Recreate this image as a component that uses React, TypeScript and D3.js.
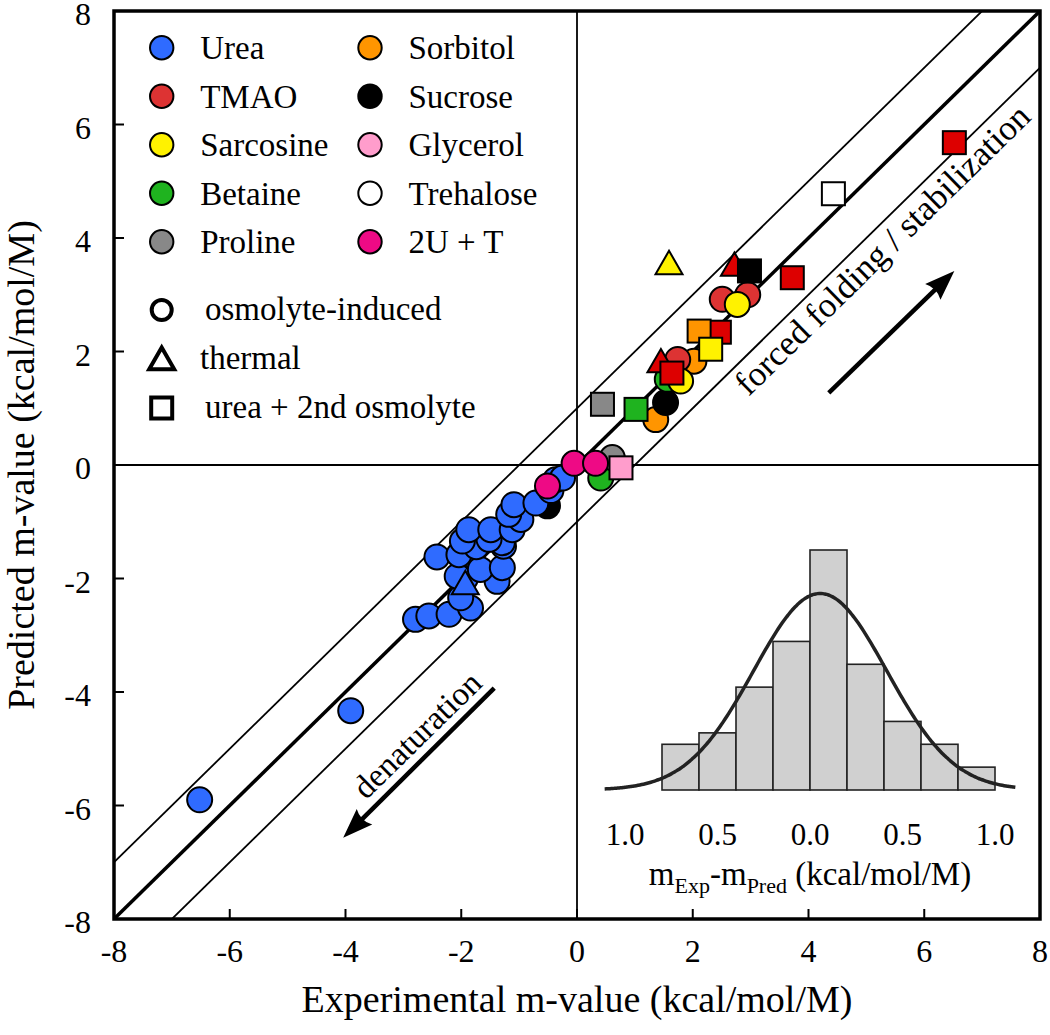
import React from "react";
import * as d3 from "d3";

type P = [number, number];

// ---------- data ----------
const ureaCircles: P[] = [
  [-6.52, -5.9], [-3.91, -4.33],
  [-2.79, -2.72], [-2.56, -2.66], [-2.21, -2.63], [-1.84, -2.52], [-2.01, -2.34],
  [-1.93, -2.0], [-2.07, -1.96], [-1.38, -2.05], [-1.67, -1.84], [-1.29, -1.81],
  [-2.42, -1.62], [-2.04, -1.58], [-1.74, -1.44], [-1.27, -1.43], [-1.29, -1.37],
  [-1.98, -1.34], [-1.52, -1.31], [-1.87, -1.14], [-1.49, -1.14], [-1.12, -1.14],
  [-0.97, -0.96], [-1.18, -0.87], [-1.09, -0.7], [-0.71, -0.67], [-0.45, -0.45],
  [-0.37, -0.26], [-0.25, -0.23],
];
const sucroseCircles: P[] = [[-0.51, -0.72], [1.53, 1.1]];
const sorbitolCircles: P[] = [[2.02, 1.83], [1.36, 0.8]];
const tmaoCircles: P[] = [[2.51, 2.92], [2.95, 3.0], [1.74, 1.86]];
const betaineCircles: P[] = [[1.56, 1.51], [0.41, -0.23]];
const sarcosineCircles: P[] = [[2.77, 2.83], [1.79, 1.48]];
const prolineCircles: P[] = [[0.61, 0.13]];
const mixCircles: P[] = [[-0.51, -0.37], [-0.05, 0.03], [0.32, 0.03]];

const sarcosineTriangles: P[] = [[1.59, 3.5]];
const tmaoTriangles: P[] = [[2.72, 3.47], [1.45, 1.77]];
const ureaTriangles: P[] = [[-1.93, -2.14]];

const sucroseSquares: P[] = [[2.98, 3.42]];
const tmaoSquares: P[] = [[3.72, 3.3], [6.52, 5.68], [2.46, 2.34], [1.64, 1.62]];
const trehaloseSquares: P[] = [[4.43, 4.78]];
const sorbitolSquares: P[] = [[2.11, 2.36]];
const sarcosineSquares: P[] = [[2.31, 2.04]];
const betaineSquares: P[] = [[1.02, 0.98]];
const prolineSquares: P[] = [[0.44, 1.07]];
const glycerolSquares: P[] = [[0.76, -0.05]];

const legendNames = ["Urea", "TMAO", "Sarcosine", "Betaine", "Proline", "Sorbitol", "Sucrose", "Glycerol", "Trehalose", "2U + T"];
const legendColors = ["#2f6bff", "#dd3333", "#fff200", "#1fb31f", "#888888", "#ff9500", "#000000", "#ff9dcc", "#ffffff", "#ee0a85"];
const shapeLegend = ["osmolyte-induced", "thermal", "urea + 2nd osmolyte"];

const axisTicks = [-8, -6, -4, -2, 0, 2, 4, 6, 8];
const diagOffsets = [-1, 0, 1];

// histogram of residuals: bin left edges (width 0.2) and counts
const histEdges = [-0.8, -0.6, -0.4, -0.2, 0.0, 0.2, 0.4, 0.6, 0.8];
const histCounts = [4, 5, 9, 13, 21, 11, 6, 4, 2];
const histBinWidth = 0.2;
const histTicks = [-1, -0.5, 0, 0.5, 1];
const fitMean = 0.055;
const fitSigma = 0.36;
const fitPeak = 17.2;

// ---------- component ----------
const FONT = "'Liberation Serif', 'Times New Roman', serif";

export default function App() {
  const W = 1050, H = 1035;
  const x = d3.scaleLinear().domain([-8, 8]).range([114, 1040]);
  const y = d3.scaleLinear().domain([-8, 8]).range([919, 11]);
  const R = 12.5;
  const SQ = 23;
  const TRI = 27;

  const hx = d3.scaleLinear().domain([-1, 1]).range([625, 995]);
  const hy = d3.scaleLinear().domain([0, 21]).range([790, 550]);

  const tri = (cx: number, cy: number, a: number) => {
    const h = (a * Math.sqrt(3)) / 2;
    return `M${cx},${cy - (2 * h) / 3}L${cx + a / 2},${cy + h / 3}L${cx - a / 2},${cy + h / 3}Z`;
  };

  const circleSets: [P[], string][] = [
    [sorbitolCircles, legendColors[5]],
    [sucroseCircles, legendColors[6]],
    [ureaCircles, legendColors[0]],
    [tmaoCircles, legendColors[1]],
    [betaineCircles, legendColors[3]],
    [sarcosineCircles, legendColors[2]],
    [prolineCircles, legendColors[4]],
    [mixCircles, legendColors[9]],
  ];
  const triSets: [P[], string][] = [
    [ureaTriangles, legendColors[0]],
    [sarcosineTriangles, legendColors[2]],
    [tmaoTriangles, "#dd0000"],
  ];
  const squareSets: [P[], string][] = [
    [tmaoSquares, "#dd0000"],
    [sucroseSquares, legendColors[6]],
    [trehaloseSquares, legendColors[8]],
    [sorbitolSquares, legendColors[5]],
    [sarcosineSquares, legendColors[2]],
    [betaineSquares, legendColors[3]],
    [prolineSquares, legendColors[4]],
    [glycerolSquares, legendColors[7]],
  ];

  const gauss = (v: number) => fitPeak * Math.exp(-0.5 * ((v - fitMean) / fitSigma) ** 2);
  const curvePts = d3.range(-1.11, 1.111, 0.01).map((v) => [v, gauss(v)] as P);
  const curve = d3.line<P>().x((d) => hx(d[0])).y((d) => hy(d[1])).curve(d3.curveBasis)(curvePts) || "";

  // arrows in data coordinates
  const upArrow: [P, P] = [[4.35, 1.27], [6.52, 3.42]];
  const downArrow: [P, P] = [[-1.43, -3.93], [-4.04, -6.57]];
  const arrow = (a: [P, P], key: string) => {
    const [x0, y0] = [x(a[0][0]), y(a[0][1])];
    const [x1, y1] = [x(a[1][0]), y(a[1][1])];
    const ang = Math.atan2(y1 - y0, x1 - x0);
    const L = 30, Wd = 11;
    const bx = x1 - L * Math.cos(ang), by = y1 - L * Math.sin(ang);
    const px = -Math.sin(ang), py = Math.cos(ang);
    return (
      <g key={key}>
        <line x1={x0} y1={y0} x2={bx + 4 * Math.cos(ang)} y2={by + 4 * Math.sin(ang)} stroke="#000" strokeWidth={4.5} />
        <path d={`M${x1},${y1}L${bx + Wd * px},${by + Wd * py}Q${bx + 6 * Math.cos(ang)},${by + 6 * Math.sin(ang)} ${bx - Wd * px},${by - Wd * py}Z`} fill="#000" />
      </g>
    );
  };
  const slopeAngle = (Math.atan2(y(1) - y(0), x(1) - x(0)) * 180) / Math.PI;

  return (
    <svg width={W} height={H} style={{ position: "absolute", left: 0, top: 0, background: "#fff" }} fontFamily={FONT}>
      <defs>
        <clipPath id="plotclip">
          <rect x={x(-8)} y={y(8)} width={x(8) - x(-8)} height={y(-8) - y(8)} />
        </clipPath>
      </defs>
      <rect width={W} height={H} fill="#fff" />

      {/* zero lines */}
      <line x1={x(0)} x2={x(0)} y1={y(-8)} y2={y(8)} stroke="#000" strokeWidth={1.8} />
      <line x1={x(-8)} x2={x(8)} y1={y(0)} y2={y(0)} stroke="#000" strokeWidth={1.8} />

      {/* diagonal lines */}
      <g clipPath="url(#plotclip)">
        {diagOffsets.map((o) => (
          <line key={o} x1={x(-9)} y1={y(-9 + o)} x2={x(9)} y2={y(9 + o)} stroke="#000" strokeWidth={o === 0 ? 3.5 : 1.8} />
        ))}
      </g>

      {/* histogram inset */}
      <g>
        {histCounts.map((c, i) => (
          <rect key={i} x={hx(histEdges[i])} y={hy(c)} width={hx(histEdges[i] + histBinWidth) - hx(histEdges[i])} height={hy(0) - hy(c)} fill="#d0d0d0" stroke="#222" strokeWidth={1.6} />
        ))}
        <path d={curve} fill="none" stroke="#222" strokeWidth={3.5} />
        {histTicks.map((t) => (
          <text key={t} x={hx(t)} y={845} fontSize={31} textAnchor="middle">{Math.abs(t).toFixed(1)}</text>
        ))}
        <text x={hx(0)} y={885} fontSize={33} textAnchor="middle">
          m<tspan fontSize={22} dy={8}>Exp</tspan><tspan dy={-8}>-m</tspan><tspan fontSize={22} dy={8}>Pred</tspan><tspan dy={-8}> (kcal/mol/M)</tspan>
        </text>
      </g>

      {/* annotations */}
      {arrow(upArrow, "up")}
      {arrow(downArrow, "down")}
      <text transform={`translate(${x(5.32)},${y(3.75)}) rotate(${slopeAngle})`} fontSize={35} textAnchor="middle" dominantBaseline="middle">forced folding / stabilization</text>
      <text transform={`translate(${x(-2.72)},${y(-4.8)}) rotate(${slopeAngle})`} fontSize={33} textAnchor="middle" dominantBaseline="middle">denaturation</text>

      {/* data */}
      <g stroke="#000" strokeWidth={2}>
        {circleSets.map(([pts, col], si) =>
          pts.map((p, i) => <circle key={`c${si}-${i}`} cx={x(p[0])} cy={y(p[1])} r={R} fill={col} />)
        )}
        {triSets.map(([pts, col], si) =>
          pts.map((p, i) => <path key={`t${si}-${i}`} d={tri(x(p[0]), y(p[1]), TRI)} fill={col} strokeLinejoin="miter" />)
        )}
        {squareSets.map(([pts, col], si) =>
          pts.map((p, i) => <rect key={`s${si}-${i}`} x={x(p[0]) - SQ / 2} y={y(p[1]) - SQ / 2} width={SQ} height={SQ} fill={col} />)
        )}
      </g>

      {/* frame */}
      <rect x={x(-8)} y={y(8)} width={x(8) - x(-8)} height={y(-8) - y(8)} fill="none" stroke="#000" strokeWidth={3.5} />
      {axisTicks.filter((t) => t > -8 && t < 8).map((t) => (
        <g key={t}>
          <line x1={x(t)} x2={x(t)} y1={y(-8)} y2={y(-8) - 10} stroke="#000" strokeWidth={2} />
          <line x1={x(-8)} x2={x(-8) + 10} y1={y(t)} y2={y(t)} stroke="#000" strokeWidth={2} />
        </g>
      ))}
      {axisTicks.map((t) => (
        <g key={`l${t}`}>
          <text x={x(t)} y={962} fontSize={32} textAnchor="middle">{t}</text>
          <text x={91} y={y(t) + 14} fontSize={32} textAnchor="end">{t}</text>
        </g>
      ))}
      <text x={x(0)} y={1012} fontSize={38} textAnchor="middle">Experimental m-value (kcal/mol/M)</text>
      <text transform={`translate(34,${y(0)}) rotate(-90)`} fontSize={38} textAnchor="middle">Predicted m-value (kcal/mol/M)</text>

      {/* legend */}
      {legendNames.map((n, i) => {
        const col = Math.floor(i / 5), row = i % 5;
        const cx = col === 0 ? 161.7 : 370;
        const cy = 47.7 + row * 48.5;
        return (
          <g key={n}>
            <circle cx={cx} cy={cy} r={11.7} fill={legendColors[i]} stroke="#000" strokeWidth={2} />
            <text x={cx + 38.5} y={cy + 11.7} fontSize={33}>{n}</text>
          </g>
        );
      })}
      <g fill="none" stroke="#000" strokeWidth={4}>
        <circle cx={161.7} cy={310} r={10} />
        <path d={tri(161.7, 362, 25)} strokeLinejoin="miter" />
        <rect x={161.7 - 10.5} y={408 - 10.5} width={21} height={21} />
      </g>
      {shapeLegend.map((s, i) => (
        <text key={s} x={i === 1 ? 200 : 205} y={320 + i * 49} fontSize={33}>{s}</text>
      ))}
    </svg>
  );
}
